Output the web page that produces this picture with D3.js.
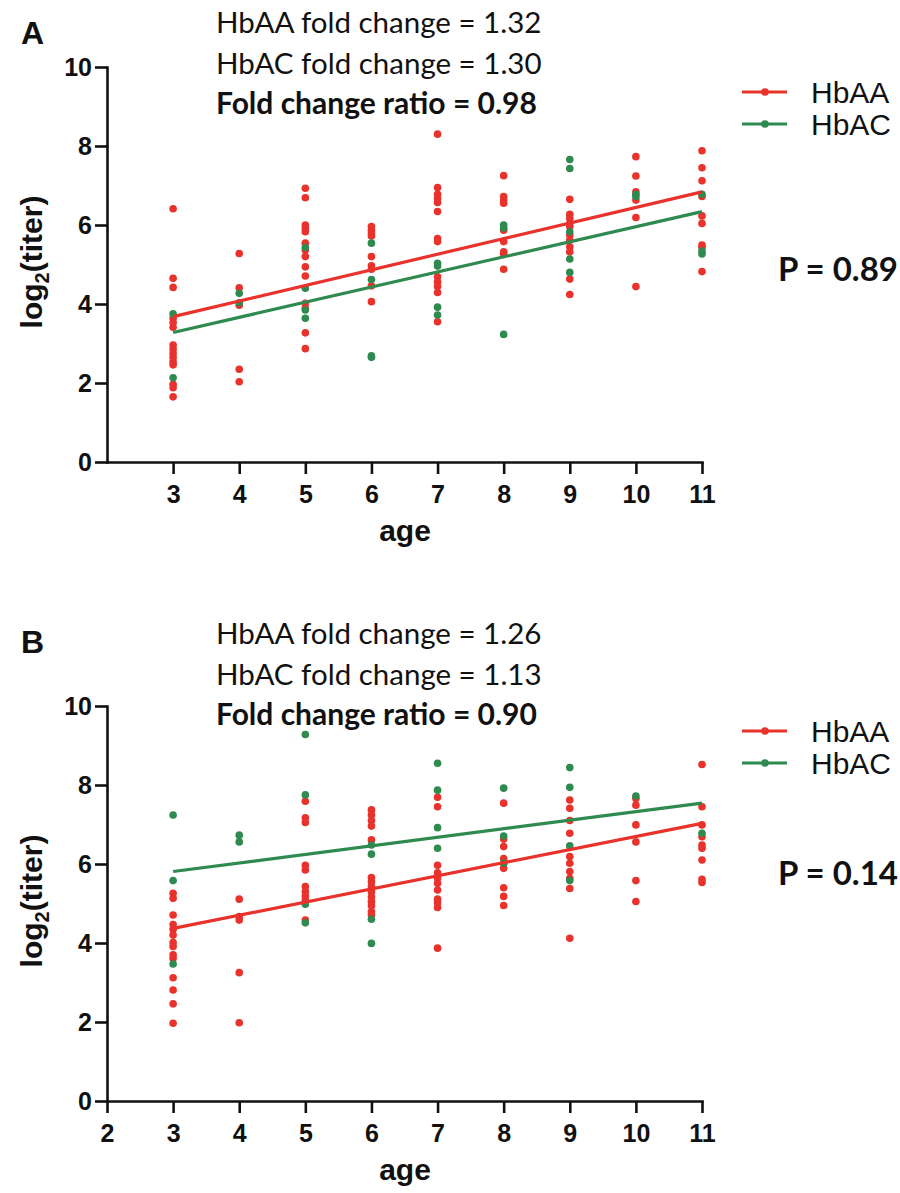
<!DOCTYPE html>
<html>
<head>
<meta charset="utf-8">
<script src="https://cdn.jsdelivr.net/npm/d3@7"></script>
<style>
  body { margin: 0; background: #fff; }
  svg { display: block; }
</style>
</head>
<body>
<svg id="fig" width="900" height="1193"></svg>
<script>
// ---- data ----
const ages = [3, 4, 5, 6, 7, 8, 9, 10, 11];
const xTicksA = [3, 4, 5, 6, 7, 8, 9, 10, 11];
const xTicksB = [2, 3, 4, 5, 6, 7, 8, 9, 10, 11];
const yTicks = [0, 2, 4, 6, 8, 10];
const seriesNames = ["HbAA", "HbAC"];

// Panel A: log2(titer) per child, grouped by age (same order as `ages`)
const aHbAA = [
  [6.41, 4.65, 4.42, 3.64, 3.53, 3.41, 2.96, 2.86, 2.75, 2.65, 2.54, 2.46, 1.97, 1.88, 1.65],
  [5.28, 4.41, 3.97, 2.35, 2.03],
  [6.93, 6.69, 6.00, 5.92, 5.83, 5.54, 5.37, 5.20, 4.94, 4.71, 4.02, 3.89, 3.27, 2.87],
  [5.96, 5.87, 5.79, 5.72, 5.20, 4.97, 4.88, 4.46, 4.06],
  [8.30, 6.95, 6.78, 6.67, 6.57, 6.34, 5.66, 5.58, 4.69, 4.56, 4.44, 4.29, 3.55],
  [7.25, 6.72, 6.63, 6.55, 5.87, 5.58, 5.32, 5.27, 4.88],
  [6.65, 6.27, 6.17, 6.04, 5.96, 5.75, 5.62, 5.45, 5.32, 4.63, 4.24],
  [7.73, 7.24, 6.84, 6.63, 6.19, 4.44],
  [7.88, 7.45, 7.12, 6.72, 6.23, 6.04, 5.49, 5.43, 4.82]
];
const aHbAC = [
  [3.75, 2.13],
  [4.27, 4.03],
  [5.43, 4.40, 3.85, 3.64],
  [5.54, 4.62, 2.69, 2.65],
  [5.03, 4.96, 3.92, 3.72],
  [6.00, 5.92, 3.23],
  [7.66, 7.43, 5.83, 5.14, 4.80],
  [6.78, 6.72],
  [6.78, 5.34, 5.27]
];

// Panel B
const bHbAA = [
  [5.26, 5.13, 4.71, 4.47, 4.35, 4.20, 4.01, 3.91, 3.70, 3.61, 3.12, 2.81, 2.46, 1.97],
  [5.11, 4.67, 4.58, 3.25, 1.98],
  [7.59, 7.17, 7.05, 5.97, 5.85, 5.43, 5.30, 5.19, 5.09, 4.58],
  [7.37, 7.24, 7.10, 6.96, 6.61, 5.66, 5.55, 5.43, 5.30, 5.17, 5.05, 4.94, 4.79, 4.71],
  [7.69, 7.45, 5.97, 5.78, 5.64, 5.51, 5.34, 5.11, 5.02, 4.90, 3.87],
  [7.54, 6.63, 6.44, 6.14, 6.02, 5.89, 5.40, 5.18, 4.95],
  [7.62, 7.41, 7.10, 6.78, 6.19, 6.02, 5.81, 5.64, 5.38, 4.12],
  [7.66, 7.49, 6.99, 6.56, 5.58, 5.05],
  [8.52, 7.45, 6.99, 6.69, 6.48, 6.40, 6.10, 5.61, 5.53]
];
const bHbAC = [
  [7.24, 5.58, 3.47],
  [6.73, 6.56],
  [9.28, 7.75, 4.98, 4.51],
  [6.48, 6.25, 4.60, 3.99],
  [8.55, 7.87, 6.92, 6.40],
  [7.92, 6.71, 6.02],
  [8.44, 7.94, 6.46, 5.58],
  [7.72],
  [6.78]
];

// Linear fits: fitted log2(titer) at the first and last age
const fitAges = [3, 11];
const aFitHbAA = [3.68, 6.84];
const aFitHbAC = [3.28, 6.34];
const bFitHbAA = [4.37, 7.03];
const bFitHbAC = [5.81, 7.54];

const annotA = ["HbAA fold change = 1.32", "HbAC fold change = 1.30", "Fold change ratio = 0.98"];
const annotB = ["HbAA fold change = 1.26", "HbAC fold change = 1.13", "Fold change ratio = 0.90"];
const pTextA = "P = 0.89";
const pTextB = "P = 0.14";

// ---- drawing ----
const RED = "#e8322b";
const GREEN = "#2f8a4f";
const colors = [RED, GREEN];
const ARIAL = "'Liberation Sans', Arial, sans-serif";
const HUMANIST = "Lato, 'Open Sans', sans-serif";

const svg = d3.select("#fig");

function drawPanel(opt) {
  const g = svg.append("g");
  const x = d3.scaleLinear().domain([2, 11]).range([107, 702]);
  const y = d3.scaleLinear().domain([0, 10]).range([opt.y0, opt.y0 - 395]);

  // axes
  const yAxis = g.append("g")
    .attr("transform", "translate(107,0)")
    .call(d3.axisLeft(y).tickValues(yTicks).tickSize(12).tickSizeOuter(0).tickPadding(3));
  const xAxis = g.append("g")
    .attr("transform", `translate(0,${opt.y0})`)
    .call(d3.axisBottom(x).tickValues(opt.xTicks).tickSize(12).tickSizeOuter(0).tickPadding(11));
  [xAxis, yAxis].forEach(a => {
    a.selectAll("path.domain").attr("stroke", "#111").attr("stroke-width", 2.6).attr("stroke-linecap", "square");
    a.selectAll(".tick line").attr("stroke", "#111").attr("stroke-width", 2.6);
    a.selectAll(".tick text")
      .attr("fill", "#111")
      .style("font-family", ARIAL)
      .style("font-weight", "bold")
      .style("font-size", "25px");
  });

  // scatter points: HbAA first, HbAC on top
  [opt.aa, opt.ac].forEach((groups, si) => {
    const pts = [];
    groups.forEach((vals, i) => vals.forEach(v => pts.push({ age: ages[i], v })));
    g.append("g").selectAll("circle").data(pts).join("circle")
      .attr("cx", d => x(d.age))
      .attr("cy", d => y(d.v))
      .attr("r", 3.8)
      .attr("fill", colors[si]);
  });

  // fitted lines
  const line = d3.line().x(d => x(d[0])).y(d => y(d[1]));
  [opt.fitAA, opt.fitAC].forEach((fit, si) => {
    g.append("path")
      .datum(fitAges.map((a, i) => [a, fit[i]]))
      .attr("d", line)
      .attr("fill", "none")
      .attr("stroke", colors[si])
      .attr("stroke-width", 3.2);
  });

  // axis titles
  const yt = g.append("text")
    .attr("transform", `translate(42,${opt.y0 - 200}) rotate(-90)`)
    .attr("text-anchor", "middle")
    .style("font-family", ARIAL).style("font-weight", "bold").style("font-size", "30px")
    .attr("fill", "#111");
  yt.append("tspan").text("log");
  yt.append("tspan").attr("dy", 7).style("font-size", "20px").text("2");
  yt.append("tspan").attr("dy", -7).text("(titer)");

  g.append("text")
    .attr("x", 405).attr("y", opt.y0 + 79)
    .attr("text-anchor", "middle")
    .style("font-family", ARIAL).style("font-weight", "bold").style("font-size", "30px")
    .attr("fill", "#111")
    .text("age");

  // panel letter
  g.append("text")
    .attr("x", 21).attr("y", opt.letterY)
    .style("font-family", ARIAL).style("font-weight", "bold").style("font-size", "32px")
    .attr("fill", "#111")
    .text(opt.letter);

  // annotation
  opt.annot.forEach((t, i) => {
    g.append("text")
      .attr("x", 216).attr("y", opt.annotY + i * 40.5)
      .style("font-family", HUMANIST)
      .style("font-weight", i === 2 ? "bold" : "normal")
      .style("font-size", i === 2 ? "30px" : "29.5px")
      .attr("fill", "#111")
      .text(t);
  });

  // legend
  seriesNames.forEach((name, i) => {
    const ly = opt.y0 - 370 + i * 32;
    const lg = g.append("g");
    lg.append("line")
      .attr("x1", 742).attr("x2", 787).attr("y1", ly).attr("y2", ly)
      .attr("stroke", colors[i]).attr("stroke-width", 3);
    lg.append("circle").attr("cx", 765).attr("cy", ly).attr("r", 3.8).attr("fill", colors[i]);
    lg.append("text")
      .attr("x", 811).attr("y", ly + 11)
      .style("font-family", ARIAL).style("font-size", "30px")
      .attr("fill", "#111")
      .text(name);
  });

  // p-value
  g.append("text")
    .attr("x", 778).attr("y", opt.pY)
    .style("font-family", HUMANIST).style("font-weight", "bold").style("font-size", "33px")
    .attr("fill", "#111")
    .text(opt.pText);
}

drawPanel({
  y0: 462, xTicks: xTicksA, aa: aHbAA, ac: aHbAC, fitAA: aFitHbAA, fitAC: aFitHbAC,
  letter: "A", letterY: 44, annot: annotA, annotY: 33, pText: pTextA, pY: 281
});
drawPanel({
  y0: 1101, xTicks: xTicksB, aa: bHbAA, ac: bHbAC, fitAA: bFitHbAA, fitAC: bFitHbAC,
  letter: "B", letterY: 653, annot: annotB, annotY: 644, pText: pTextB, pY: 885
});
</script>
</body>
</html>
